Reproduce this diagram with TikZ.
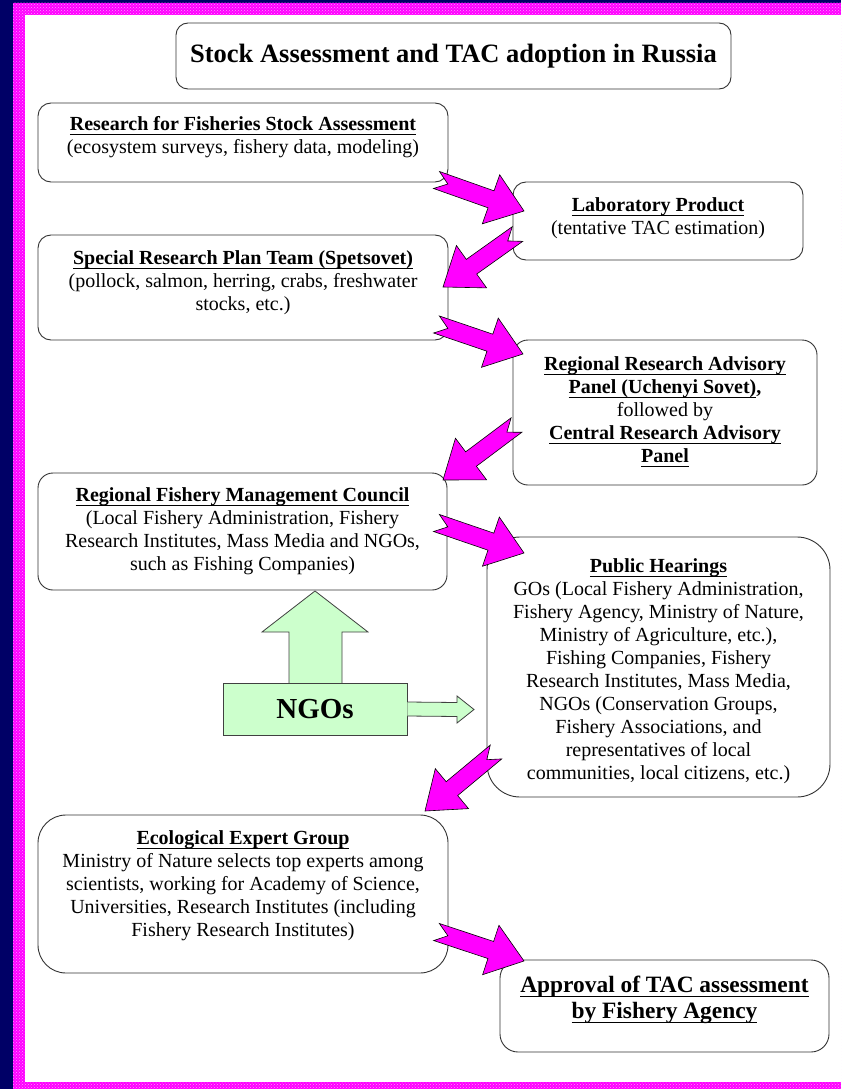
\documentclass[tikz,border=0pt]{standalone}
\usepackage{fontspec}
\setmainfont{Liberation Serif}
\usetikzlibrary{calc,patterns}
\definecolor{navy}{RGB}{0,0,102}
\definecolor{pinkm}{RGB}{255,0,255}
\definecolor{ngogreen}{RGB}{204,255,204}
\newsavebox\ulbox
\newcommand{\ulb}[1]{\sbox\ulbox{\bfseries #1}\rlap{\rule[-5pt]{\wd\ulbox}{1.6pt}}\usebox\ulbox}
\newcommand{\fl}{\rule{0pt}{16pt}}
\newcommand{\notcharrow}[3]{%
  \coordinate (#1-s) at (#2);
  \coordinate (#1-e) at (#3);
  \coordinate (#1-c) at ($(#1-e)!35pt!(#1-s)$);
  \filldraw[blockarrow]
    ($(#1-s)!9pt!90:(#1-e)$) -- ($(#1-s)!12pt!(#1-e)$) -- ($(#1-s)!9pt!-90:(#1-e)$)
    -- ($(#1-c)!9pt!-90:(#1-e)$) -- ($(#1-c)!26pt!-90:(#1-e)$) -- (#1-e)
    -- ($(#1-c)!26pt!90:(#1-e)$) -- ($(#1-c)!9pt!90:(#1-e)$) -- cycle;
}
\tikzset{
  box/.style={draw=black!80, line width=0.9pt, fill=white, rounded corners=13pt, inner sep=0pt},
  txt/.style={anchor=north, align=center, inner sep=0pt, font=\fontsize{20}{23}\selectfont},
  blockarrow/.style={fill=pinkm, draw=black, line width=0.6pt, line join=miter},
  greenarrow/.style={fill=ngogreen, draw=black!75, line width=0.8pt}
}
\begin{document}
\begin{tikzpicture}[x=1pt,y=-1pt]
\useasboundingbox (0,0) rectangle (841,1089);
% frame
\fill[navy] (0,0) rectangle (841,1089);
\fill[pinkm] (13,3) rectangle (841,1089);
\fill[pattern=crosshatch dots, pattern color=white!60!pinkm] (13,3) rectangle (841,1089);
\fill[white] (25,15) rectangle (841,1082);

% title
\node[box, rounded corners=12pt, minimum width=555pt, minimum height=66pt,
      font=\fontsize{26.5}{31}\selectfont\bfseries] (title) at (453.5,56)
      {Stock Assessment and TAC adoption in Russia};

% boxes
\node[box, minimum width=410pt, minimum height=79pt] (research) at (243,142.5) {};
\node[txt] (research-t) at (243,114)
  {\fl\ulb{Research for Fisheries Stock Assessment}\\(ecosystem surveys, fishery data, modeling)};

\node[box, minimum width=290pt, minimum height=78pt] (lab) at (658,221) {};
\node[txt] (lab-t) at (658,195)
  {\fl\ulb{Laboratory Product}\\(tentative TAC estimation)};

\node[box, minimum width=410pt, minimum height=105pt] (spets) at (243,287.5) {};
\node[txt] (spets-t) at (243,248)
  {\fl\ulb{Special Research Plan Team (Spetsovet)}\\(pollock, salmon, herring, crabs, freshwater\\stocks, etc.)};

\node[box, rounded corners=15pt, minimum width=304pt, minimum height=145pt] (regres) at (665,412.5) {};
\node[txt] (regres-t) at (665,354)
  {\fl\ulb{Regional Research Advisory}\\\ulb{Panel (Uchenyi Sovet)}\textbf{,}\\followed by\\\ulb{Central Research Advisory}\\\ulb{Panel}};

\node[box, rounded corners=15pt, minimum width=409pt, minimum height=117pt] (rfmc) at (242.5,531.5) {};
\node[txt] (rfmc-t) at (242.5,485)
  {\fl\ulb{Regional Fishery Management Council}\\(Local Fishery Administration, Fishery\\Research Institutes, Mass Media and NGOs,\\such as Fishing Companies)};

\node[box, rounded corners=33pt, minimum width=343pt, minimum height=260pt] (public) at (658.5,667) {};
\node[txt] (public-t) at (658.5,556)
  {\fl\ulb{Public Hearings}\\GOs (Local Fishery Administration,\\Fishery Agency, Ministry of Nature,\\Ministry of Agriculture, etc.),\\Fishing Companies, Fishery\\Research Institutes, Mass Media,\\NGOs (Conservation Groups,\\Fishery Associations, and\\representatives of local\\communities, local citizens, etc.)};

\node[box, rounded corners=28pt, minimum width=410pt, minimum height=158pt] (ecol) at (243,894) {};
\node[txt] (ecol-t) at (243,828)
  {\fl\ulb{Ecological Expert Group}\\Ministry of Nature selects top experts among\\scientists, working for Academy of Science,\\Universities, Research Institutes (including\\Fishery Research Institutes)};

\node[box, rounded corners=18pt, minimum width=329pt, minimum height=92pt] (approval) at (664.5,1006) {};
\node[txt, font=\fontsize{23.4}{26}\selectfont] (approval-t) at (664.5,975)
  {\rule{0pt}{17pt}\ulb{Approval of TAC assessment}\\\ulb{by Fishery Agency}};

% NGOs and green arrows
\draw[greenarrow] (289,684) -- (289,632) -- (262,632) -- (315,591) -- (368,632) -- (342,632) -- (342,684);
\node[draw=black!75, line width=0.8pt, fill=ngogreen, minimum width=184pt, minimum height=52pt,
      inner sep=0pt, font=\fontsize{29}{34}\selectfont\bfseries] (ngos) at (315,709) {NGOs};
\coordinate (ngoarr-tip) at (474,709.5);
\draw[greenarrow] ($(ngos.east)+(0,-7)$) -- (457,702.5) -- (457,696) -- (ngoarr-tip)
  -- (457,723) -- (457,716.5) -- ($(ngos.east)+(0,7)$);

% magenta notched arrows
\notcharrow{a1}{436.5,180}{524,211}
\notcharrow{a2}{517.5,234}{443,287}
\notcharrow{a3}{436.5,324.5}{523,354}
\notcharrow{a4}{516.5,425}{443,480}
\notcharrow{a5}{436.5,523}{524,553}
\notcharrow{a6}{496,752}{425,811}
\notcharrow{a7}{436.5,932}{524,961}
\end{tikzpicture}
\end{document}
